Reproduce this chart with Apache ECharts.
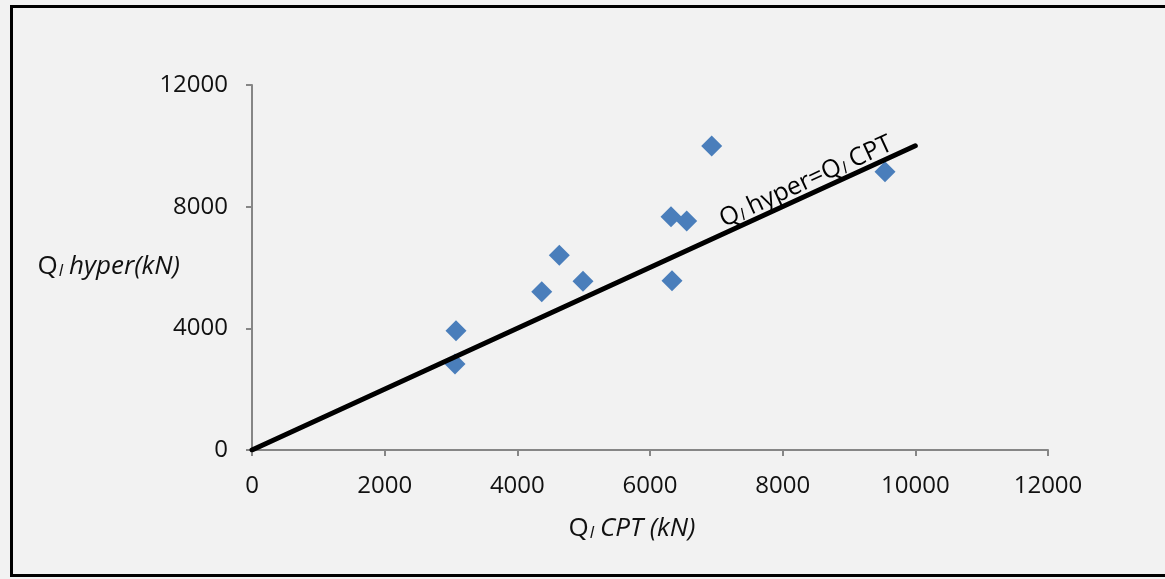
<!DOCTYPE html>
<html>
<head>
<meta charset="utf-8">
<script src="https://cdn.jsdelivr.net/npm/echarts@6/dist/echarts.min.js"></script>
<style>
  html, body { margin: 0; padding: 0; background: #f4f4f4; }
  #chart { width: 1165px; height: 579px; }
</style>
</head>
<body>
<div id="chart"></div>
<script>
// Pile capacity: hyperbolic fit vs CPT method (kN)
const qlCpt   = [3075, 3060, 4368, 4633, 4990, 6317, 6553, 6332, 6930, 9543];
const qlHyper = [3922, 2827, 5204, 6401, 5546, 7670, 7528, 5566, 9994, 9150];

// 1:1 reference line
const equalityLine = [[0, 0], [10000, 10000]];

const xTicks = [0, 2000, 4000, 6000, 8000, 10000, 12000];
const yTicks = [0, 4000, 8000, 12000];

const FONT = '"Open Sans", "Noto Sans", sans-serif';
const axisGray = '#868686';
const TICK_SIZE = 24;

function richSet(size) {
  return {
    q: { fontFamily: FONT, fontSize: size, color: '#111', lineHeight: 32, verticalAlign: 'bottom' },
    s: { fontFamily: FONT, fontSize: Math.round(size * 0.65), color: '#111', fontStyle: 'italic', lineHeight: 30, verticalAlign: 'bottom', padding: [0, 6, 0, 1] },
    i: { fontFamily: FONT, fontSize: size, color: '#111', fontStyle: 'italic', lineHeight: 32, verticalAlign: 'bottom' },
    r: { fontFamily: FONT, fontSize: size, color: '#111', lineHeight: 32, verticalAlign: 'bottom' }
  };
}
const nameRich = richSet(26);
const lineRich = richSet(25);

const points = qlCpt.map((x, k) => [x, qlHyper[k]]);

const chart = echarts.init(document.getElementById('chart'), null, { renderer: 'canvas' });

function makeAxis(ticks) {
  return {
    type: 'value',
    min: ticks[0],
    max: ticks[ticks.length - 1],
    interval: ticks[1] - ticks[0],
    axisLine: { show: true, lineStyle: { color: axisGray, width: 2 } },
    axisTick: { show: true, inside: false, length: 6, lineStyle: { color: axisGray, width: 2 } },
    splitLine: { show: false },
    axisLabel: { fontFamily: FONT, fontSize: TICK_SIZE, color: '#111', formatter: v => String(v) }
  };
}

const xAxis = makeAxis(xTicks);
const yAxis = makeAxis(yTicks);
xAxis.axisLabel.margin = 24;
yAxis.axisLabel.margin = 24;

chart.setOption({
  backgroundColor: '#f2f2f2',
  animation: false,
  grid: { left: 252, right: 117, top: 85, bottom: 129, containLabel: false },
  xAxis: Object.assign(xAxis, {
    name: '{q|Q}{s|l}{i|CPT (kN)}',
    nameLocation: 'middle',
    nameGap: 60,
    nameMoveOverlap: false,
    nameTextStyle: { rich: nameRich, verticalAlign: 'top', padding: [0, 36, 0, 0] }
  }),
  yAxis: Object.assign(yAxis, {
    name: '{q|Q}{s|l}{i|hyper(kN)}',
    nameLocation: 'middle',
    nameRotate: 0,
    nameGap: 72,
    nameMoveOverlap: false,
    nameTextStyle: { rich: nameRich, align: 'right', padding: [0, 0, 8, 0] }
  }),
  series: [
    {
      type: 'scatter',
      data: points,
      symbol: 'diamond',
      symbolSize: 21,
      itemStyle: { color: '#4a7ebb', opacity: 1 },
      z: 2
    },
    {
      type: 'line',
      data: equalityLine,
      showSymbol: false,
      symbol: 'none',
      lineStyle: { color: '#000', width: 5, cap: 'round' },
      z: 3
    }
  ]
});

// Frame around the chart and the rotated label along the 1:1 line
const p0 = chart.convertToPixel({ gridIndex: 0 }, equalityLine[0]);
const p1 = chart.convertToPixel({ gridIndex: 0 }, equalityLine[1]);
const angle = Math.atan2(p0[1] - p1[1], p1[0] - p0[0]);
const labelAnchor = chart.convertToPixel({ gridIndex: 0 }, [8330, 8920]);

chart.setOption({
  graphic: [
    {
      type: 'rect',
      shape: { x: 11.5, y: 6.5, width: 1170, height: 569 },
      style: { fill: null, stroke: '#000', lineWidth: 3 },
      silent: true,
      z: 10
    },
    {
      type: 'text',
      x: labelAnchor[0],
      y: labelAnchor[1],
      rotation: angle,
      style: {
        text: '{r|Q}{s|l}{r|hyper=Q}{s|l}{r|CPT}',
        rich: lineRich,
        align: 'center',
        verticalAlign: 'middle'
      },
      z: 10
    }
  ]
});
</script>
</body>
</html>
